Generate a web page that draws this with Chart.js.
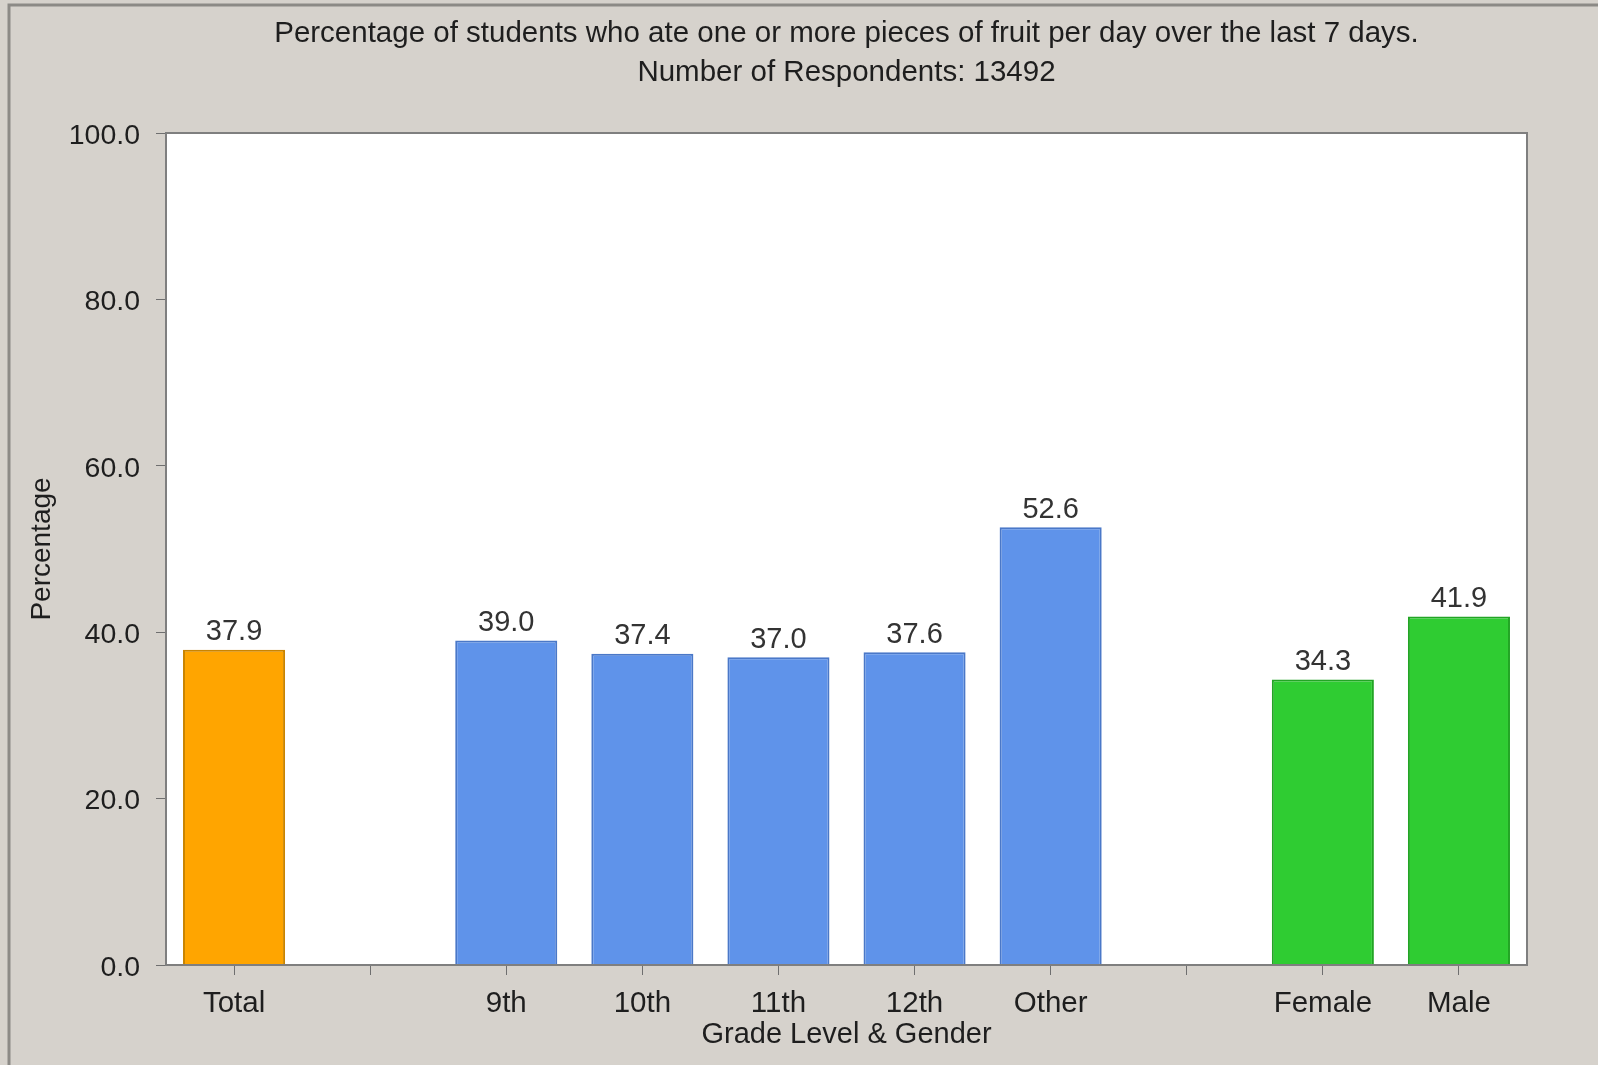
<!DOCTYPE html>
<html>
<head>
<meta charset="utf-8">
<script src="https://cdn.jsdelivr.net/npm/chart.js@4/dist/chart.umd.min.js"></script>
<style>
  html, body { margin: 0; padding: 0; background: #d6d2cc; }
  #wrap { width: 1598px; height: 1065px; position: relative; }
  canvas { display: block; }
</style>
</head>
<body>
<div id="wrap"><canvas id="c" width="1598" height="1065"></canvas></div>
<script>
const titleLines = [
  "Percentage of students who ate one or more pieces of fruit per day over the last 7 days.",
  "Number of Respondents: 13492"
];
const categories = ["Total", "", "9th", "10th", "11th", "12th", "Other", "", "Female", "Male"];
const values = [37.9, null, 39.0, 37.4, 37.0, 37.6, 52.6, null, 34.3, 41.9];
const groups = ["total", "", "grade", "grade", "grade", "grade", "grade", "", "gender", "gender"];
const yTicks = [0, 20, 40, 60, 80, 100];
const xAxisTitle = "Grade Level & Gender";
const yAxisTitle = "Percentage";

const groupFill = { total: "#ffa500", grade: "#5f93ea", gender: "#2fcc32", "": "#ffffff" };
const groupBorder = { total: "#c98400", grade: "#4a78c8", gender: "#22a524", "": "#ffffff" };

const FONT = "'Liberation Sans', Arial, sans-serif";

const framePlugin = {
  id: "frame",
  beforeDraw(chart) {
    const ctx = chart.ctx, a = chart.chartArea;
    ctx.save();
    ctx.fillStyle = "#d6d2cc";
    ctx.fillRect(0, 0, chart.width, chart.height);
    ctx.strokeStyle = "#8c8a86";
    ctx.lineWidth = 3;
    ctx.beginPath();
    ctx.moveTo(9, chart.height); ctx.lineTo(9, 5); ctx.lineTo(chart.width, 5);
    ctx.stroke();
    ctx.fillStyle = "#ffffff";
    ctx.fillRect(a.left, a.top, a.right - a.left, a.bottom - a.top);
    ctx.restore();
  },
  afterDraw(chart) {
    const ctx = chart.ctx, a = chart.chartArea;
    ctx.save();
    ctx.strokeStyle = "#7f7f7f";
    ctx.lineWidth = 2;
    ctx.strokeRect(a.left, a.top, a.right - a.left, a.bottom - a.top);
    ctx.fillStyle = "#1e1e1e";
    ctx.font = "29.5px " + FONT;
    ctx.textAlign = "center";
    ctx.textBaseline = "middle";
    const cx = (a.left + a.right) / 2;
    ctx.fillText(titleLines[0], cx, 34);
    ctx.fillText(titleLines[1], cx, 73);
    const meta = chart.getDatasetMeta(0);
    ctx.fillStyle = "#333333";
    ctx.font = "29px " + FONT;
    ctx.textBaseline = "bottom";
    meta.data.forEach((bar, i) => {
      const v = values[i];
      if (v === null || v === undefined) return;
      ctx.fillText(v.toFixed(1), bar.x, bar.y - 3);
    });
    ctx.restore();
  }
};

new Chart(document.getElementById("c"), {
  type: "bar",
  data: {
    labels: categories,
    datasets: [{
      data: values,
      backgroundColor: groups.map(g => groupFill[g]),
      borderColor: groups.map(g => groupBorder[g]),
      borderWidth: 2,
      barPercentage: 0.75,
      categoryPercentage: 1.0
    }]
  },
  options: {
    responsive: false,
    animation: false,
    devicePixelRatio: 1,
    layout: { padding: { top: 133, right: 71, left: 0, bottom: 0 } },
    plugins: {
      legend: { display: false },
      title: { display: false },
      tooltip: { enabled: false }
    },
    scales: {
      x: {
        type: "category",
        grid: { drawOnChartArea: false, drawTicks: true, tickLength: 10, color: "#6f6f6f", offset: false },
        border: { display: true, color: "#7f7f7f", width: 2 },
        ticks: { color: "#1e1e1e", font: { size: 29.5, family: FONT }, padding: 11, maxRotation: 0, autoSkip: false },
        title: { display: true, text: xAxisTitle, color: "#1e1e1e", font: { size: 29, family: FONT }, padding: { top: 0, bottom: 13 } },
        afterFit(scale) { scale.height = 1065 - 965; }
      },
      y: {
        min: 0, max: 100,
        afterBuildTicks(scale) { scale.ticks = yTicks.map(v => ({ value: v })); },
        grid: { drawOnChartArea: false, drawTicks: true, tickLength: 10, color: "#6f6f6f" },
        border: { display: true, color: "#7f7f7f", width: 2 },
        ticks: { color: "#1e1e1e", font: { size: 28.5, family: FONT }, padding: 16, labelOffset: 3, callback: v => Number(v).toFixed(1) },
        title: { display: true, text: yAxisTitle, color: "#1e1e1e", font: { size: 28, family: FONT }, padding: { top: 25, bottom: 0 } },
        afterFit(scale) { scale.width = 166; }
      }
    }
  },
  plugins: [framePlugin]
});
</script>
</body>
</html>
